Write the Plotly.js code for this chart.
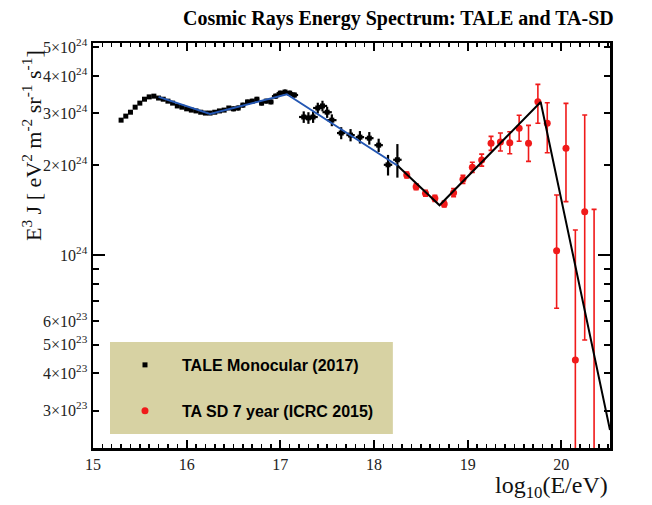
<!DOCTYPE html>
<html>
<head>
<meta charset="utf-8">
<script src="https://cdn.plot.ly/plotly-3.0.1.min.js"></script>
<style>html,body{margin:0;padding:0;background:#fff;}#chart{width:652px;height:505px;}</style>
</head>
<body>
<div id="chart"></div>
<script>
// TALE Monocular (2017): log10(E/eV), E^3 J in units of 1e24 eV^2 m^-2 sr^-1 s^-1
const taleX = [15.30,15.35,15.40,15.45,15.50,15.55,15.60,15.65,15.70,15.75,15.80,15.85,15.90,15.95,16.00,16.05,16.10,16.15,16.20,16.25,16.30,16.35,16.40,16.45,16.50,16.55,16.60,16.65,16.70,16.75,16.80,16.85,16.90,16.95,17.00,17.05,17.10,17.15,17.25,17.30,17.35,17.40,17.45,17.50,17.55,17.65,17.75,17.85,17.95,18.05,18.15,18.25];
const taleY = [2.84,2.93,3.02,3.14,3.24,3.34,3.40,3.42,3.37,3.34,3.29,3.24,3.17,3.14,3.10,3.07,3.05,3.02,3.00,3.00,3.02,3.05,3.07,3.12,3.10,3.12,3.19,3.27,3.29,3.34,3.24,3.29,3.27,3.42,3.50,3.53,3.50,3.45,2.91,2.89,2.91,3.12,3.17,3.02,2.84,2.57,2.53,2.49,2.47,2.34,2.01,2.09];
const taleErrY = [0.03,0.03,0.03,0.03,0.03,0.03,0.03,0.03,0.03,0.03,0.03,0.03,0.03,0.03,0.03,0.03,0.03,0.03,0.03,0.03,0.03,0.03,0.03,0.03,0.06,0.06,0.06,0.06,0.06,0.06,0.06,0.06,0.06,0.07,0.07,0.07,0.07,0.07,0.13,0.13,0.13,0.13,0.13,0.13,0.13,0.12,0.12,0.12,0.12,0.12,0.16,0.27];
const taleErrX = [0.02,0.02,0.02,0.02,0.02,0.02,0.02,0.02,0.02,0.02,0.02,0.02,0.02,0.02,0.02,0.02,0.02,0.02,0.02,0.02,0.02,0.02,0.02,0.02,0.025,0.025,0.025,0.025,0.025,0.025,0.025,0.025,0.025,0.04,0.04,0.04,0.04,0.04,0.05,0.05,0.05,0.05,0.05,0.05,0.05,0.045,0.045,0.045,0.045,0.045,0.045,0.045];

// TA SD 7 year (ICRC 2015)
const tasdX = [18.35,18.45,18.55,18.65,18.75,18.85,18.95,19.05,19.15,19.25,19.35,19.45,19.55,19.65,19.75,19.85,19.95,20.05,20.15,20.25,20.35];
const tasdY = [1.857,1.696,1.612,1.551,1.484,1.620,1.796,1.971,2.085,2.373,2.398,2.385,2.666,2.373,3.275,2.771,1.034,2.284,0.444,1.398,0.15];
const tasdErrPlus  = [0.044,0.040,0.038,0.036,0.035,0.051,0.056,0.078,0.099,0.132,0.173,0.212,0.282,0.355,0.472,0.479,0.557,0.950,0.769,1.556,1.274];
const tasdErrMinus = [0.043,0.039,0.037,0.036,0.034,0.049,0.055,0.075,0.095,0.125,0.161,0.195,0.255,0.309,0.504,0.564,0.372,0.773,0.420,0.880,0.140];

// Broken power-law fits
const taleFitX = [15.70,16.25,17.07,18.27];
const taleFitY = [3.40,2.98,3.47,1.98];
const tasdFitX = [18.25,18.70,19.78,20.52];
const tasdFitY = [2.00,1.47,3.27,0.258];

// Axis ticks
const yTickVals = [0.3,0.4,0.5,0.6,0.7,0.8,0.9,1,2,3,4,5];
const yTickText = ['3×10<sup>23</sup>','4×10<sup>23</sup>','5×10<sup>23</sup>','6×10<sup>23</sup>',' ',' ',' ','10<sup>24</sup>','2×10<sup>24</sup>','3×10<sup>24</sup>','4×10<sup>24</sup>','5×10<sup>24</sup>'];
const xTickVals = [15,16,17,18,19,20];

const serif = 'Liberation Serif, Times New Roman, serif';

const traces = [
  {
    x: taleX, y: taleY, type: 'scatter', mode: 'markers',
    name: '<b>TALE Monocular (2017)</b>', legendgroup: 'a',
    marker: {symbol: 'square', size: 5, color: '#000'},
    error_y: {type: 'data', array: taleErrY, visible: true, color: '#000', thickness: 2.2, width: 0},
    error_x: {type: 'data', array: taleErrX, visible: true, color: '#000', thickness: 2.2, width: 0}
  },
  {
    x: taleFitX, y: taleFitY, type: 'scatter', mode: 'lines', showlegend: false,
    line: {color: '#2457b3', width: 2}
  },
  {
    x: tasdX, y: tasdY, type: 'scatter', mode: 'markers',
    name: '<b>TA SD 7 year (ICRC 2015)</b>', legendgroup: 'b',
    marker: {symbol: 'circle', size: 7, color: '#f01a1a'},
    error_y: {type: 'data', symmetric: false, array: tasdErrPlus, arrayminus: tasdErrMinus, visible: true, color: '#f01a1a', thickness: 1.6, width: 2.5}
  },
  {
    x: tasdFitX, y: tasdFitY, type: 'scatter', mode: 'lines', showlegend: false,
    line: {color: '#000', width: 2}
  }
];

const yr = [Math.log10(0.2245), Math.log10(5.16)];

const layout = {
  width: 652, height: 505,
  margin: {l: 93, r: 42, t: 43, b: 57},
  paper_bgcolor: '#fff', plot_bgcolor: '#fff',
  title: {
    text: '<b>Cosmic Rays Energy Spectrum: TALE and TA-SD</b>',
    font: {family: serif, size: 20, color: '#000'},
    x: 0.611, xref: 'container', xanchor: 'center',
    y: 0.965, yref: 'container', yanchor: 'middle'
  },
  showlegend: true,
  legend: {
    x: 0.029, y: 0.247, xanchor: 'left', yanchor: 'top',
    bgcolor: 'rgba(0,0,0,0)', borderwidth: 0,
    traceorder: 'grouped', tracegroupgap: 22, itemwidth: 64,
    font: {family: 'Liberation Sans, Arial, sans-serif', size: 16, color: '#000'}
  },
  xaxis: {
    range: [15, 20.52], type: 'linear',
    tickvals: xTickVals, ticktext: xTickVals.map(String),
    ticks: 'inside', ticklen: 8, tickwidth: 2, tickcolor: '#000',
    minor: {dtick: 0.1, ticks: 'inside', ticklen: 4, tickwidth: 1.5, tickcolor: '#000'},
    showline: true, linewidth: 2.5, linecolor: '#000', mirror: 'ticks',
    showgrid: false, zeroline: false,
    tickfont: {family: serif, size: 16, color: '#222'}
  },
  yaxis: {
    type: 'log', range: yr,
    tickvals: yTickVals, ticktext: yTickText,
    ticks: 'inside', ticklen: 6, tickwidth: 2, tickcolor: '#000',
    showline: true, linewidth: 2.5, linecolor: '#000', mirror: 'ticks',
    showgrid: false, zeroline: false,
    tickfont: {family: serif, size: 16, color: '#222'}
  },
  yaxis2: {
    type: 'log', range: yr, overlaying: 'y',
    tickvals: [1], showticklabels: false,
    ticks: 'inside', ticklen: 12, tickwidth: 2, tickcolor: '#000',
    showline: false, mirror: 'ticks', showgrid: false, zeroline: false
  },
  shapes: [{
    type: 'rect', xref: 'paper', yref: 'paper',
    x0: 0.0329, x1: 0.580, y0: 0.0346, y1: 0.2617,
    fillcolor: '#d7d2a3', line: {width: 0}, layer: 'below'
  }],
  annotations: [
    {
      text: 'E<sup>3</sup> J [ eV<sup>2</sup> m<sup>-2</sup> sr<sup>-1</sup> s<sup>-1</sup>]',
      xref: 'paper', yref: 'paper', x: -0.118, y: 0.748,
      xanchor: 'center', yanchor: 'middle', textangle: -90, showarrow: false,
      font: {family: serif, size: 22, color: '#111'}
    },
    {
      text: 'log<sub>10</sub>(E/eV)',
      xref: 'paper', yref: 'paper', x: 1.0, y: -0.096,
      xanchor: 'right', yanchor: 'middle', showarrow: false,
      font: {family: serif, size: 24, color: '#111'}
    }
  ]
};

// empty trace to activate yaxis2 (no visible marks)
traces.push({x: [], y: [], yaxis: 'y2', type: 'scatter', mode: 'markers', showlegend: false, hoverinfo: 'skip'});

Plotly.newPlot('chart', traces, layout, {displayModeBar: false, staticPlot: true});
</script>
</body>
</html>
